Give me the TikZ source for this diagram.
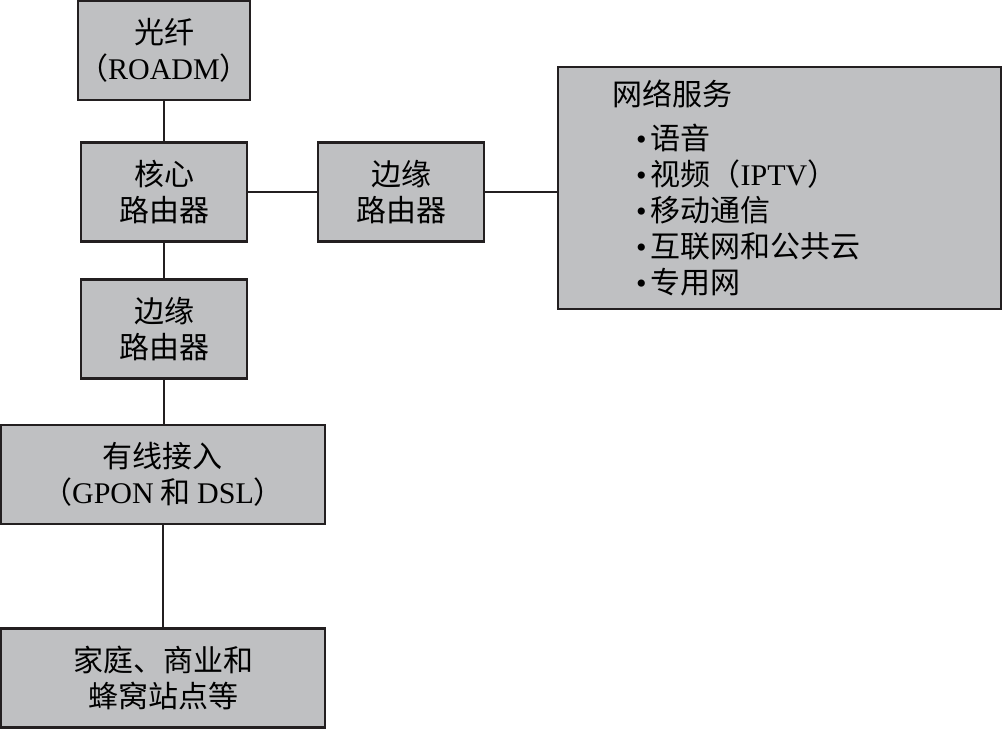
\documentclass[tikz,border=0pt]{standalone}
\usepackage{fontspec}
\setmainfont{Liberation Serif}
\newfontfamily\cjk{Noto Sans CJK SC}
\usetikzlibrary{positioning}
\definecolor{boxgray}{RGB}{191,192,194}
\definecolor{edgeline}{RGB}{35,31,32}
\newcommand{\lat}[1]{{\rmfamily #1}}
\newcommand{\svcitem}[1]{\hspace*{18pt}\lat{•}\hspace{3pt}#1}
\tikzset{
    unit/.style={rectangle, draw=edgeline, line width=2pt, fill=boxgray, align=center, minimum width=124.5pt, minimum height=74.25pt, inner sep=0pt, font=\cjk\fontsize{22.5}{27}\selectfont},
    wide/.style={unit, minimum width=243pt},
    service/.style={unit, minimum width=332.25pt, minimum height=181.5pt, text width=251pt, align=left, inner xsep=40.5pt},
    link/.style={draw=edgeline, line width=1.5pt}
}
\begin{document}
\begin{tikzpicture}[x=0.75pt, y=-0.75pt]
    \useasboundingbox (0,0) rectangle (1002,729);

    \node[unit] (fiber) at (164,50.5) {光纤\\（\lat{ROADM}）};
    \node[unit] (core) at (164,192) {核心\\路由器};
    \node[unit] (edgeR) at (401,192) {边缘\\路由器};
    \node[service] (svc) at (779.5,188) {网络服务\\[6pt]
        \svcitem{语音}\\
        \svcitem{视频（\lat{IPTV}）}\\
        \svcitem{移动通信}\\
        \svcitem{互联网和公共云}\\
        \svcitem{专用网}};
    \node[unit] (edgeL) at (164,329) {边缘\\路由器};
    \node[wide] (wired) at (163,474.5) {有线接入\\（\lat{GPON} 和 \lat{DSL}）};
    \node[wide] (homes) at (163,678) {家庭、商业和\\蜂窝站点等};

    \draw[link] (fiber) -- (core);
    \draw[link] (core) -- (edgeR);
    \draw[link] (edgeR.east) -- (edgeR.east -| svc.west);
    \draw[link] (core) -- (edgeL);
    \draw[link] (edgeL.south) -- (edgeL.south |- wired.north);
    \draw[link] (wired) -- (homes);
\end{tikzpicture}
\end{document}
